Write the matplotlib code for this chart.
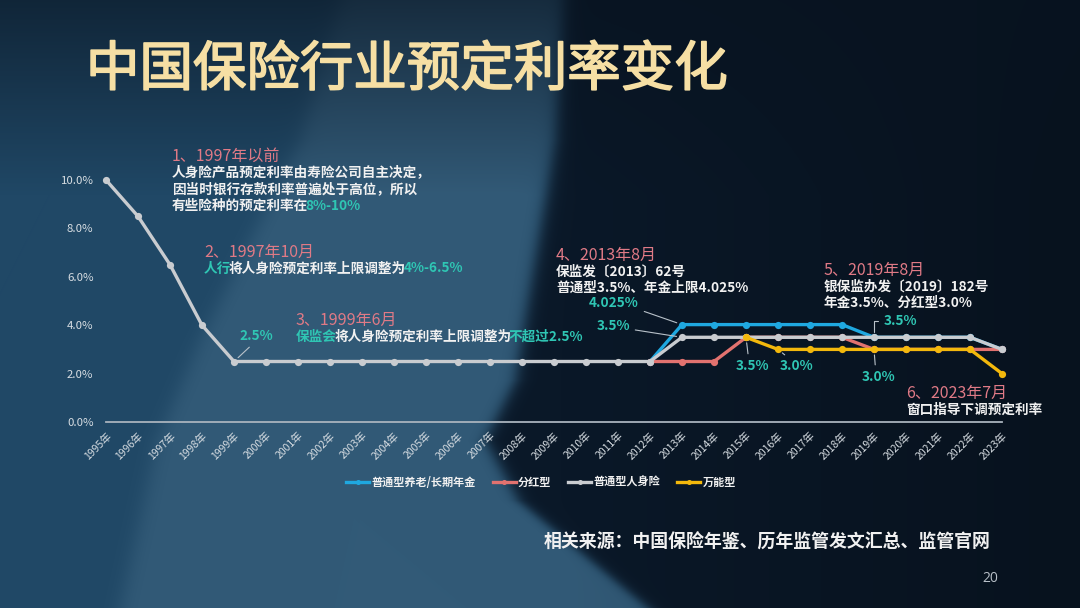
import numpy as np
import matplotlib
matplotlib.use("Agg")
import matplotlib.pyplot as plt
import matplotlib.patheffects as pe

plt.rcParams['font.family'] = ['Noto Sans CJK SC', 'DejaVu Sans']

#Data
year_labels = [f"{y}年" for y in range(1995, 2024)]
nan = np.nan
annuity = [nan, nan, nan, nan, nan, nan, nan, nan, nan, nan, nan, nan, nan, nan, nan, nan, nan,
           2.5, 4.025, 4.025, 4.025, 4.025, 4.025, 4.025, 3.5, 3.5, 3.5, 3.5, 3.0]
dividend = [nan, nan, nan, nan, nan, nan, nan, nan, nan, nan, nan, nan, nan, nan, nan, nan, nan,
            2.5, 2.5, 2.5, 3.5, 3.5, 3.5, 3.5, 3.0, 3.0, 3.0, 3.0, 3.0]
general = [10.0, 8.5, 6.5, 4.0, 2.5, 2.5, 2.5, 2.5, 2.5, 2.5, 2.5, 2.5, 2.5, 2.5, 2.5, 2.5, 2.5,
           2.5, 3.5, 3.5, 3.5, 3.5, 3.5, 3.5, 3.5, 3.5, 3.5, 3.5, 3.0]
universal = [nan, nan, nan, nan, nan, nan, nan, nan, nan, nan, nan, nan, nan, nan, nan, nan, nan,
             nan, nan, nan, 3.5, 3.0, 3.0, 3.0, 3.0, 3.0, 3.0, 3.0, 2.0]
series_names = ["普通型养老/长期年金", "分红型", "普通型人身险", "万能型"]
y_ticks = [0, 2, 4, 6, 8, 10]

#Theme colors
PINK = "#e07a86"
TEAL = "#2fc6b4"
WHITE = "#f1f1f1"
GOLD = "#f6dfa4"
TICK = "#d8dee3"
colors = ["#1fa8e0", "#e2726f", "#c9ccd0", "#f3b80c"]

W, H = 1080, 608
fig = plt.figure(figsize=(W / 100, H / 100), dpi=100)

#Background (dark navy slide with lighter curved panels)
yy, xx = np.mgrid[0:H, 0:W].astype(float)
dark = np.array([10, 24, 40]) / 255
medium = np.array([32, 72, 102]) / 255
light = np.array([50, 90, 119]) / 255
R = np.interp(yy, [0, 140, 300, 380, 440, 500, 608], [560, 552, 525, 512, 482, 515, 645])
L = np.interp(yy, [0, 140, 340, 440, 608], [340, 300, 200, 157, 120])
sig = lambda d, w: 1 / (1 + np.exp(-d / w))
in_left = sig(R - xx, 5)[..., None]
in_blade = (sig(xx - L, 6) * sig(R - xx, 5))[..., None]
img = dark * (1 - in_left) + medium * in_left
img = img * (1 - in_blade) + light * in_blade
right_fade = np.clip((xx - 560) / 520, 0, 1)[..., None]
img = img * (1 - 0.25 * right_fade)
top = np.clip(0.35 + yy / 300, 0, 1)[..., None]
img = img * top + dark * 0.8 * (1 - top)
bg = fig.add_axes([0, 0, 1, 1], zorder=-10)
bg.imshow(np.clip(img, 0, 1), aspect="auto", extent=(0, 1, 0, 1))
bg.axis("off")

def px(x, y):
    return x / W, 1 - y / H

#Title (regular weight, thickened a little)
fig.text(*px(86, 70), "中国保险行业预定利率变化", fontsize=38.5, color=GOLD, va="center",
         ha="left", path_effects=[pe.withStroke(linewidth=1.2, foreground=GOLD)])

#Chart
ax = fig.add_axes([106 / W, 186 / H, 896 / W, 242 / H])
ax.set_facecolor("none")
x = np.arange(len(year_labels))
for vals, c, name in zip([annuity, dividend, general, universal], colors, series_names):
    ax.plot(x, vals, color=c, lw=2.4, marker="o", markersize=5.2, markeredgewidth=0,
            label=name, clip_on=False)

ax.set_xlim(0, len(year_labels) - 1)
ax.set_ylim(0, 10)
for s in ["top", "right", "left"]:
    ax.spines[s].set_visible(False)
ax.spines["bottom"].set_color("#a9b3bd")
ax.spines["bottom"].set_linewidth(1.3)
ax.set_xticks(x)
ax.set_xticklabels(year_labels, rotation=45, ha="right", va="top", rotation_mode="anchor",
                   fontsize=7.5, color=TICK)
ax.set_yticks(y_ticks)
ax.set_yticklabels([f"{v:.1f}%" for v in y_ticks], fontsize=8.2, color=TICK)
ax.tick_params(axis="both", length=0)
ax.tick_params(axis="y", pad=9)
ax.tick_params(axis="x", pad=6)

#Multi-colour text lines: each part starts where the previous one ends
def rich_line(xp, yp, parts, size=9.8):
    last = None
    for txt, col in parts:
        if last is None:
            last = fig.text(*px(xp, yp), txt, color=col, fontsize=size, va="center",
                            ha="left", weight="bold")
        else:
            last = ax.annotate(txt, xy=(1, 0), xycoords=last, xytext=(-2.5, 0),
                               textcoords="offset pixels", va="bottom", ha="left",
                               color=col, fontsize=size, weight="bold",
                               annotation_clip=False)

def block(xp, yp, header, lines, step=16.5):
    fig.text(*px(xp, yp), header, color=PINK, fontsize=11.5, va="center", ha="left")
    for i, parts in enumerate(lines):
        rich_line(xp, yp + 16.5 + i * step, parts)

block(172, 156, "1、1997年以前", [
    [("人身险产品预定利率由寿险公司自主决定，", WHITE)],
    [("因当时银行存款利率普遍处于高位，所以", WHITE)],
    [("有些险种的预定利率在", WHITE), ("8%-10%", TEAL)],
])
block(204, 252, "2、1997年10月", [
    [("人行", TEAL), ("将人身险预定利率上限调整为", WHITE), ("4%-6.5%", TEAL)],
])
block(296, 320, "3、1999年6月", [
    [("保监会", TEAL), ("将人身险预定利率上限调整为", WHITE), ("不超过2.5%", TEAL)],
])
block(556, 255, "4、2013年8月", [
    [("保监发〔2013〕62号", WHITE)],
    [("普通型3.5%、年金上限4.025%", WHITE)],
])
block(824, 270, "5、2019年8月", [
    [("银保监办发〔2019〕182号", WHITE)],
    [("年金3.5%、分红型3.0%", WHITE)],
])
block(906, 393, "6、2023年7月", [
    [("窗口指导下调预定利率", WHITE)],
])

#Value callouts with leader lines
def callout(i, val, text, dx, dy, relpos, conn="arc3"):
    ax.annotate(text, xy=(i, val), xytext=(dx, dy), textcoords="offset pixels",
                color=TEAL, fontsize=9.8, weight="bold", ha="center", va="center",
                annotation_clip=False,
                arrowprops=dict(arrowstyle="-", color="#b9c2ca", lw=0.8, relpos=relpos,
                                shrinkA=2, shrinkB=4, connectionstyle=conn))

callout(4, 2.5, "2.5%", 22, 26, (0.45, 0))
callout(18, 4.025, "4.025%", -68, 22, (1, 0))
callout(18, 3.5, "3.5%", -69, 11, (1, 0.3))
callout(20, 3.5, "3.5%", 6, -29, (0.4, 1))
callout(21, 3.0, "3.0%", 19, -17, (0.3, 1))
callout(24, 3.5, "3.5%", 26, 16, (0, 0.5), "angle,angleA=0,angleB=90,rad=0")
callout(24, 3.0, "3.0%", 5, -28, (0.4, 1))

#Legend
leg = fig.legend(loc="center", bbox_to_anchor=px(541, 482), ncol=4, frameon=False,
                 fontsize=8, handlelength=2.1, columnspacing=1.5, handletextpad=0.2,
                 markerscale=0.7)
for t in leg.get_texts():
    t.set_color(WHITE)
    t.set_fontweight("bold")

#Footer
fig.text(*px(544, 543), "相关来源：中国保险年鉴、历年监管发文汇总、监管官网", fontsize=12.9,
         color=WHITE, weight="bold", va="center", ha="left")
fig.text(*px(990, 578), "20", fontsize=10, color="#b8c0c8", va="center", ha="center",
         family="Open Sans")

plt.savefig("out.png", dpi=100)
plt.close()
